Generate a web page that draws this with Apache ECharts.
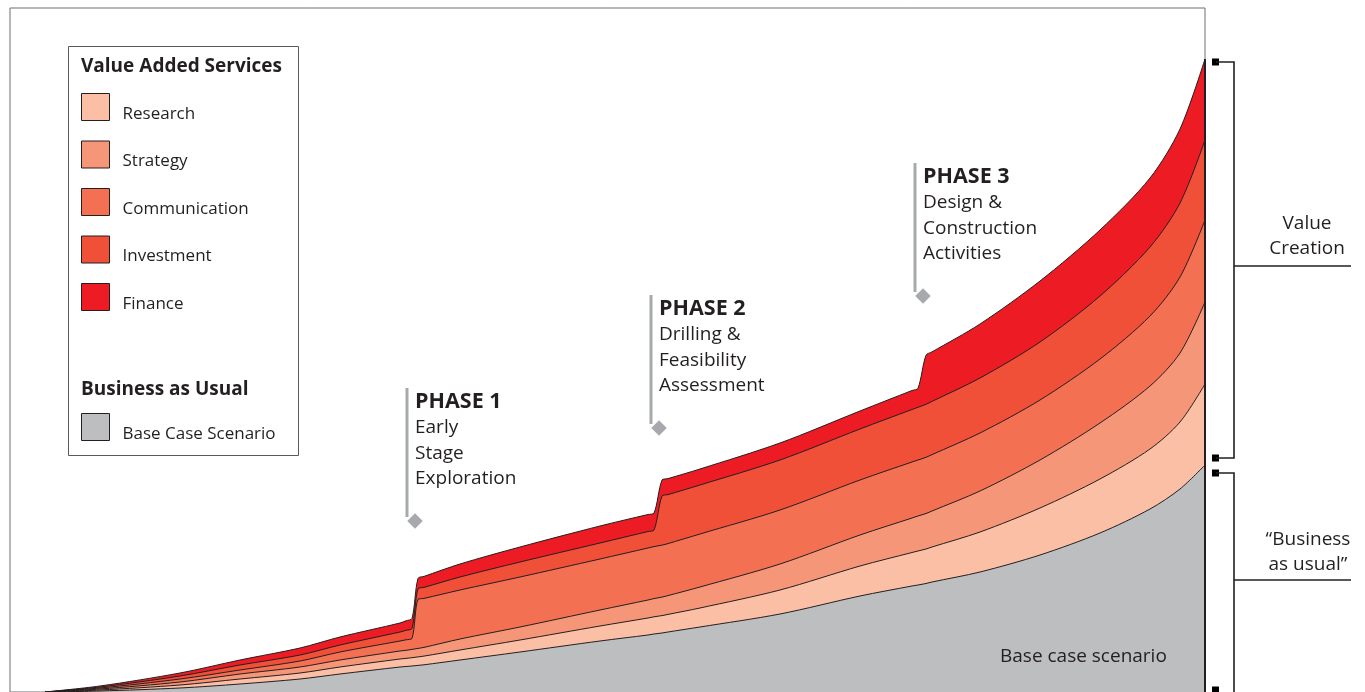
<!DOCTYPE html>
<html><head><meta charset="utf-8">
<script src="https://cdn.jsdelivr.net/npm/echarts@6/dist/echarts.min.js"></script>
<style>html,body{margin:0;padding:0;background:#fff;overflow:hidden}#c{width:1365px;height:692px}</style>
</head><body><div id="c"></div>
<script>
// x positions along the time axis (arbitrary units)
const xs = [45,100,180,240,300,340,400,406,412,418,424,460,520,600,648,654,662,668,700,780,860,912,918,926,932,980,1040,1100,1150,1180,1205];
// layer thicknesses (stacked bottom to top)
const baseCase      = [0,1,4,8,13,18,25,25.5,26,26.6,27.2,32,40,51,57,58,59,60,65,78,96,106,107,108.5,110,120,137,159,183,203,227];
const research      = [0,1,3,5,6,7,8,8.1,8.3,8.5,8.7,10,12,15,17,17.2,17.4,17.6,19,24,30,33.5,34,34.5,35,40,47,54,60,67,81];
const strategy      = [0,1,3,5,6,7,8,8.1,8.3,8.5,8.7,11,13,16,18,18.2,18.5,18.8,21,26,31,34.5,35,35.5,36,41,48,56,63,69,82];
const communication = [0,1,3,4,6,8,10,10.5,11,49,49,49,50,51,52,52,52,52,53,54,55,56,56,56.2,56.4,58,60,64,70,76,82];
const investment    = [0,1,3,5,6,7,9,9.5,10,10.5,11,13,15,16,16.5,16.5,49,49,49,50,51,52.5,52.7,53,53.2,55,58,63,69,74,80];
const finance       = [0,1,3,5,7,8,9,9.5,10,10.5,11,13,15,17,17,17,16,16,16,17,18,19,19,49,49.5,54,61,66,69,74,81];

const seriesNames = ['Base Case Scenario','Research','Strategy','Communication','Investment','Finance'];
const seriesValues = [baseCase, research, strategy, communication, investment, finance];
const colors = ['#bcbec0','#fbbfa6','#f69679','#f37052','#f04f38','#ed1c24'];

const legendGroup1 = ['Research','Strategy','Communication','Investment','Finance'];
const legendGroup2 = ['Base Case Scenario'];

const phaseX = [415, 659, 923];
const phaseY = [171, 264, 396];
const phaseTitles = ['PHASE 1','PHASE 2','PHASE 3'];
const phaseLines = [['Early','Stage','Exploration'],['Drilling &','Feasibility','Assessment'],['Design &','Construction','Activities']];

const FF = '"Open Sans", "Noto Sans", sans-serif';
const TXT = '#231f20';

const chart = echarts.init(document.getElementById('c'), null, {renderer:'canvas'});

// cumulative tops of each layer
const cumulative = [];
seriesValues.forEach((arr, k) => {
  cumulative.push(arr.map((v, i) => v + (k > 0 ? cumulative[k - 1][i] : 0)));
});

// draw top layer first so lower layers paint over it
const order = [5, 4, 3, 2, 1, 0];
const series = order.map(k => ({
  name: seriesNames[k],
  type: 'line',
  smooth: 0.3,
  showSymbol: false,
  symbol: 'none',
  z: 2,
  data: xs.map((x, i) => [x, cumulative[k][i]]),
  itemStyle: { color: colors[k] },
  lineStyle: { color: TXT, width: 1 },
  areaStyle: { color: colors[k], opacity: 1 },
  emphasis: { disabled: true },
  silent: true
}));

const legendCommon = {
  orient: 'vertical',
  left: 81,
  padding: 0,
  z: 10,
  itemWidth: 28,
  itemHeight: 27,
  icon: 'rect',
  selectedMode: false,
  itemStyle: { borderColor: TXT, borderWidth: 1 },
  formatter: '{t|{name}}',
  textStyle: { fontFamily: FF, fontSize: 17, color: TXT,
    rich: { t: { fontFamily: FF, fontSize: 17, color: TXT, padding: [14, 0, 0, 8] } } }
};

chart.setOption({
  animation: false,
  backgroundColor: '#fff',
  grid: { left: 10, right: 160, top: 8, bottom: 0, show: true, borderColor: '#6d6e71', borderWidth: 1, backgroundColor: 'transparent' },
  xAxis: { type: 'value', min: 10, max: 1205, show: false },
  yAxis: { type: 'value', min: 0, max: 684, show: false },
  legend: [
    Object.assign({}, legendCommon, { data: legendGroup1, top: 93, itemGap: 18 }),
    Object.assign({}, legendCommon, { data: legendGroup2, top: 413 })
  ],
  series: series
});

// annotations placed through the chart's own coordinate system
const g = [];
const px = (x, y) => chart.convertToPixel({ gridIndex: 0 }, [x, y]);
const last = xs.length - 1;
const totalEnd = cumulative[5][last];
const baseEnd = cumulative[0][last];
const pTop = px(xs[last], totalEnd);
const pBase = px(xs[last], baseEnd);
const pZero = px(xs[last], 0);

// legend box & headings
g.push({ type: 'rect', shape: { x: 68.5, y: 46.5, width: 230, height: 409 }, style: { fill: 'none', stroke: '#58595b', lineWidth: 1 }, z: 10 });
g.push({ type: 'text', style: { text: 'Value Added Services', x: 81, y: 67, font: 'bold 19px ' + FF, fill: TXT, verticalAlign: 'middle' }, z: 10 });
g.push({ type: 'text', style: { text: 'Business as Usual', x: 81, y: 390, font: 'bold 19px ' + FF, fill: TXT, verticalAlign: 'middle' }, z: 10 });

// right edge of the stacked area
g.push({ type: 'line', shape: { x1: pTop[0], y1: pTop[1], x2: pZero[0], y2: pZero[1] }, style: { stroke: TXT, lineWidth: 2 }, z: 20 });

// phase markers
phaseX.forEach((x, i) => {
  const p = px(x, phaseY[i]);
  g.push({ type: 'line', shape: { x1: p[0] - 8, y1: p[1] - 133, x2: p[0] - 8, y2: p[1] - 4 }, style: { stroke: '#a7a9ac', lineWidth: 3 }, z: 10 });
  g.push({ type: 'rect', x: p[0], y: p[1], rotation: Math.PI / 4, shape: { x: -5.5, y: -5.5, width: 11, height: 11 }, style: { fill: '#a7a9ac' }, z: 11 });
  g.push({ type: 'text', style: { text: phaseTitles[i], x: p[0], y: p[1] - 119, font: 'bold 21.5px ' + FF, fill: TXT, verticalAlign: 'middle' }, z: 10 });
  g.push({ type: 'text', style: { text: phaseLines[i].join('\n'), x: p[0], y: p[1] - 106, font: '19px ' + FF, lineHeight: 25.5, fill: TXT, verticalAlign: 'top' }, z: 10 });
});

// base case label
g.push({ type: 'text', style: { text: 'Base case scenario', x: 1000, y: 657, font: '19px ' + FF, fill: TXT, verticalAlign: 'middle' }, z: 10 });

// brackets on the right
const bx0 = pTop[0] + 11, bx1 = pTop[0] + 29, bx2 = pTop[0] + 146;
const vcTop = pTop[1] + 3, vcBot = pBase[1] - 7, buTop = pBase[1] + 8, buBot = pZero[1] - 2;
[vcTop, vcBot, buTop, buBot].forEach(y => {
  g.push({ type: 'rect', shape: { x: bx0 - 4, y: y - 3.5, width: 7, height: 7 }, style: { fill: '#000' }, z: 10 });
});
g.push({ type: 'polyline', shape: { points: [[bx0, vcTop], [bx1, vcTop], [bx1, vcBot], [bx0, vcBot]] }, style: { stroke: TXT, lineWidth: 1.6, fill: 'none' }, z: 10 });
g.push({ type: 'polyline', shape: { points: [[bx0, buTop], [bx1, buTop], [bx1, buBot + 20]] }, style: { stroke: TXT, lineWidth: 1.6, fill: 'none' }, z: 10 });
const vcMid = 266, buMid = 580;
g.push({ type: 'line', shape: { x1: bx1, y1: vcMid, x2: bx2, y2: vcMid }, style: { stroke: TXT, lineWidth: 1.4 }, z: 10 });
g.push({ type: 'line', shape: { x1: bx1, y1: buMid, x2: bx2, y2: buMid }, style: { stroke: TXT, lineWidth: 1.4 }, z: 10 });
g.push({ type: 'text', style: { text: 'Value\nCreation', x: 1307, y: vcMid - 5, font: '19px ' + FF, lineHeight: 25, fill: TXT, align: 'center', verticalAlign: 'bottom' }, z: 10 });
g.push({ type: 'text', style: { text: '\u201cBusiness\nas usual\u201d', x: 1308, y: buMid - 3, font: '19px ' + FF, lineHeight: 25, fill: TXT, align: 'center', verticalAlign: 'bottom' }, z: 10 });

chart.setOption({ graphic: g });
</script>
</body></html>
